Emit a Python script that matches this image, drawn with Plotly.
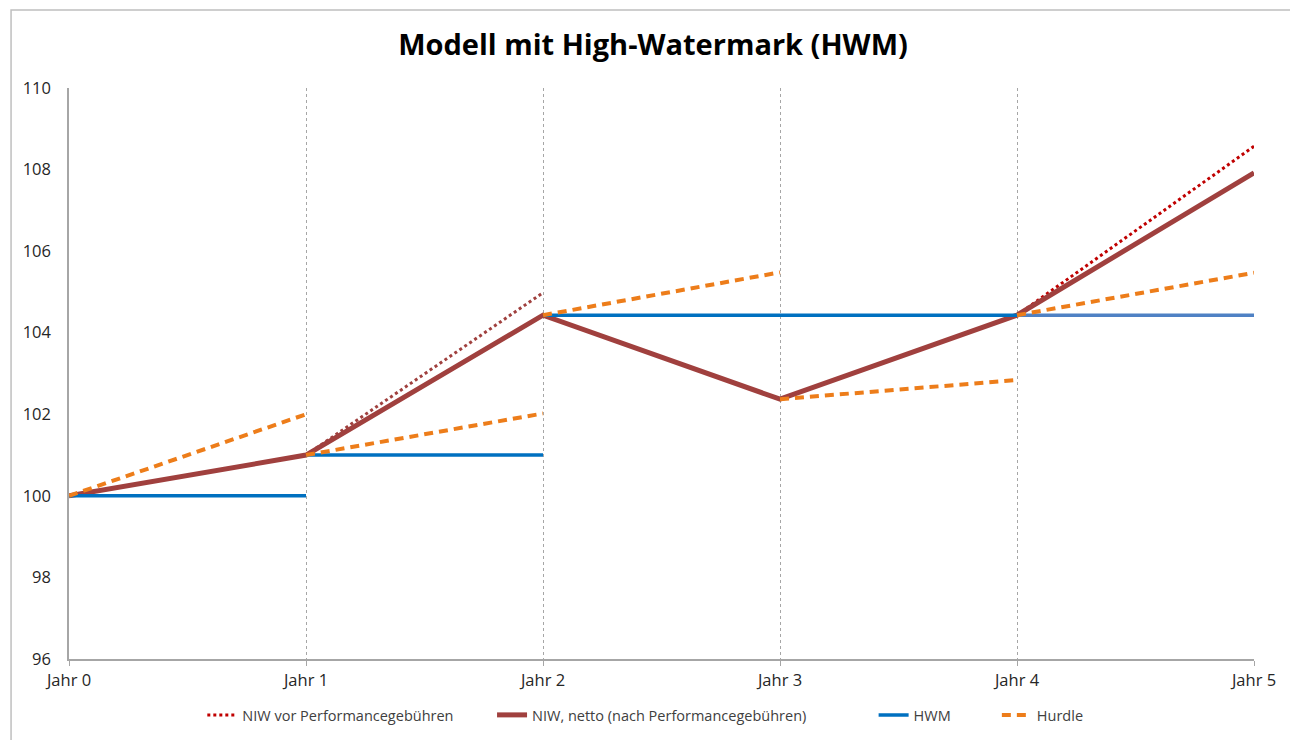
import plotly.graph_objects as go

jahre = [0, 1, 2, 3, 4, 5]
jahr_labels = ["Jahr 0", "Jahr 1", "Jahr 2", "Jahr 3", "Jahr 4", "Jahr 5"]

# NIW netto (nach Performancegebuehren), Wert am Jahresende
niw_netto = [100.0, 101.0, 104.43, 102.37, 104.43, 107.92]

# NIW vor Performancegebuehren, nur in Jahren mit Gebuehr (Start, Ende)
vor_jahr = [1, 4]
vor_start = [101.0, 104.43]
vor_ende = [104.98, 108.57]

# HWM je Jahr (gilt von Jahr i bis Jahr i+1)
hwm = [100.0, 101.0, 104.43, 104.43, 104.43]

# Hurdle: Startwert = NIW netto, Endwert am Folgejahr
hurdle_ende = [102.0, 102.02, 105.48, 102.84, 105.47]


def segmente(starts, ends, x0s):
    xs, ys = [], []
    for x0, a, b in zip(x0s, starts, ends):
        xs += [x0, x0 + 1, None]
        ys += [a, b, None]
    return xs, ys


fig = go.Figure()

# NIW vor Performancegebuehren (zwei Segmente, leicht unterschiedliche Farben)
fig.add_trace(go.Scatter(
    x=[vor_jahr[1], vor_jahr[1] + 1], y=[vor_start[1], vor_ende[1]],
    mode="lines", name="NIW vor Performancegebühren", legendgroup="vor",
    legend="legend", line=dict(color="#C00000", width=3, dash="dot")))
fig.add_trace(go.Scatter(
    x=[vor_jahr[0], vor_jahr[0] + 1], y=[vor_start[0], vor_ende[0]],
    mode="lines", name="NIW vor Performancegebühren", legendgroup="vor",
    showlegend=False, line=dict(color="#A0403E", width=3, dash="dot")))

# NIW netto
fig.add_trace(go.Scatter(
    x=jahre, y=niw_netto, mode="lines",
    name="NIW, netto (nach Performancegebühren)", legend="legend2",
    line=dict(color="#A0403E", width=5)))

# HWM (letztes Segment etwas hellere Farbe)
hx, hy = segmente(hwm[:4], hwm[:4], jahre[:4])
fig.add_trace(go.Scatter(
    x=hx, y=hy, mode="lines", name="HWM", legendgroup="hwm", legend="legend3",
    line=dict(color="#0070C0", width=3.5)))
hx, hy = segmente(hwm[4:], hwm[4:], jahre[4:5])
fig.add_trace(go.Scatter(
    x=hx, y=hy, mode="lines", name="HWM", legendgroup="hwm",
    showlegend=False, line=dict(color="#4F81C4", width=3.5)))

# Hurdle
ux, uy = segmente(niw_netto[:5], hurdle_ende, jahre[:5])
fig.add_trace(go.Scatter(
    x=ux, y=uy, mode="lines", name="Hurdle", legend="legend4",
    line=dict(color="#ED7D1A", width=4, dash="9px,6px")))

leg = dict(orientation="h", xanchor="left", y=-0.098, yanchor="middle",
           font=dict(size=14.5, color="#404040"), bgcolor="rgba(0,0,0,0)")

# page body has a small margin, so figure is 1290x732
fig.update_layout(
    width=1290, height=732,
    margin=dict(l=61, r=44, t=80, b=81, autoexpand=False),
    paper_bgcolor="white", plot_bgcolor="white",
    font=dict(family="Open Sans, Liberation Sans, sans-serif", color="#262626"),
    title=dict(text="<b>Modell mit High-Watermark (HWM)</b>",
               x=0.5, xanchor="center", y=0.949, yanchor="middle",
               font=dict(size=29, color="#000000",
                         family="Open Sans, Liberation Sans, sans-serif")),
    showlegend=True,
    legend=dict(leg, x=0.1125),
    legend2=dict(leg, x=0.357),
    legend3=dict(leg, x=0.679),
    legend4=dict(leg, x=0.783),
    shapes=[dict(type="rect", xref="paper", yref="paper",
                 x0=-0.0489, x1=1.0338, y0=-0.16, y1=1.1366,
                 line=dict(color="#BFBFBF", width=1.5))],
)

fig.update_xaxes(
    range=[0, 5], tickvals=jahre, ticktext=jahr_labels,
    showgrid=True, gridcolor="#A6A6A6", griddash="dot", gridwidth=1,
    showline=True, linecolor="#A6A6A6", linewidth=1.5,
    ticks="outside", ticklen=5, tickcolor="#A6A6A6",
    tickfont=dict(size=16.5, color="#262626"), zeroline=False)

fig.update_yaxes(
    range=[96, 110], tickvals=[96, 98, 100, 102, 104, 106, 108, 110],
    showgrid=False, showline=True, linecolor="#A6A6A6", linewidth=1.5,
    ticks="", ticklabelstandoff=13,
    tickfont=dict(size=16.5, color="#262626"), zeroline=False)

fig.write_html("out.html")
